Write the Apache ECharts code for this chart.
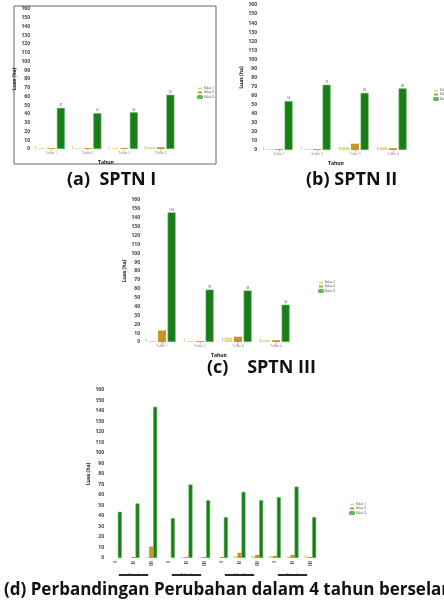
<!DOCTYPE html>
<html><head><meta charset="utf-8">
<script src="https://cdn.jsdelivr.net/npm/echarts@6/dist/echarts.min.js"></script>
<style>html,body{margin:0;padding:0;background:#fff}#c{width:444px;height:605px}</style>
</head><body><div id="c"></div>
<script>
// ---- data ----
const categories = ['Tahun 1', 'Tahun 2', 'Tahun 3', 'Tahun 4'];
const seriesNames = ['Kelas 1', 'Kelas 2', 'Kelas 3'];
const yTicks = {min: 0, max: 160, interval: 10};

const a_s1 = [1, 1, 1, 2];
const a_s2 = [1, 1, 1, 2];
const a_s3 = [47, 41, 42, 62];

const b_s1 = [1, 1, 3, 3];
const b_s2 = [1, 1, 7, 2];
const b_s3 = [54, 72, 63, 68];

const c_s1 = [1, 1, 5, 2];
const c_s2 = [13, 1, 6, 2];
const c_s3 = [146, 59, 58, 42];

const d_inner = ['SPTN I', 'SPTN II', 'SPTN III', 'SPTN I', 'SPTN II', 'SPTN III', 'SPTN I', 'SPTN II', 'SPTN III', 'SPTN I', 'SPTN II', 'SPTN III'];
const d_groups = categories;
const d_s1 = [0, 0, 1, 0, 1, 1, 0, 2, 2, 2, 2, 2];
const d_s2 = [0, 1, 11, 0, 1, 1, 1, 5, 3, 2, 3, 1];
const d_s3 = [44, 52, 144, 38, 70, 55, 39, 63, 55, 58, 68, 39];

const captions = ['(a)  SPTN I', '(b) SPTN II', '(c)    SPTN III', '(d) Perbandingan Perubahan dalam 4 tahun berselang'];

// ---- styles ----
const colors = ['#e4dc86', '#c8922c', '#1a7d1a'];
const FONT = '"Open Sans", "DejaVu Sans", sans-serif';

const grids = [
  {left: 33, top: 9, width: 146, height: 140},
  {left: 260, top: 5, width: 152, height: 145},
  {left: 143, top: 200, width: 152, height: 142},
  {left: 107, top: 390, width: 212, height: 168}
];

function yAxis(i) {
  return {
    type: 'value', gridIndex: i, min: yTicks.min, max: yTicks.max, interval: yTicks.interval,
    name: 'Luas (ha)', nameLocation: 'middle', nameGap: i === 3 ? 12 : 13, nameRotate: 90,
    nameTextStyle: {fontSize: 5, fontWeight: 'bold', color: '#222', fontFamily: FONT},
    axisLine: {show: false}, axisTick: {show: false}, splitLine: {show: false},
    axisLabel: {fontSize: 5, fontWeight: 'bold', color: '#3a3f4a', margin: 3, fontFamily: FONT}
  };
}
function xAxis(i, data) {
  return {
    type: 'category', gridIndex: i, data: data,
    name: 'Tahun', nameLocation: 'middle', nameGap: 11,
    nameTextStyle: {fontSize: 5, fontWeight: 'bold', color: '#111', fontFamily: FONT},
    axisLine: {show: false}, axisTick: {show: false},
    axisLabel: {fontSize: 3, color: '#777', margin: 3, fontFamily: FONT}
  };
}

function barSeries(idx, xi, yi, data, bw, gap) {
  return {
    type: 'bar', name: seriesNames[idx], xAxisIndex: xi, yAxisIndex: yi, data: data,
    barWidth: bw, barGap: gap,
    itemStyle: {color: colors[idx], borderColor: idx === 2 ? '#5cb85c' : colors[idx], borderWidth: idx === 2 ? 0.6 : 0},
    label: {show: xi !== 3, position: idx === 2 ? 'top' : (idx === 1 ? 'bottom' : 'left'), fontSize: 3, color: '#555', distance: 1, fontFamily: FONT}
  };
}

const xAxes = [
  xAxis(0, categories), xAxis(1, categories), xAxis(2, categories),
  Object.assign(xAxis(3, d_inner), {name: '', axisLabel: {fontSize: 5, fontWeight: 'bold', rotate: 90, color: '#333', margin: 3, interval: 0, fontFamily: FONT, formatter: v => v.replace('SPTN ', '')}}),
  {type: 'category', gridIndex: 3, data: d_groups, position: 'bottom', offset: 8,
   axisLine: {show: false}, axisTick: {show: false},
   axisLabel: {interval: 0, formatter: v => '{u|' + v + '}',
     rich: {u: {fontSize: 3, color: '#2b2b2b', backgroundColor: '#2b2b2b', height: 2, lineHeight: 2, padding: [0, 9], fontFamily: FONT}}}}
];

const series = [];
[[a_s1, a_s2, a_s3], [b_s1, b_s2, b_s3], [c_s1, c_s2, c_s3]].forEach((arr, g) => {
  arr.forEach((d, k) => series.push(barSeries(k, g, g, d, 8, '20%')));
});
[d_s1, d_s2, d_s3].forEach((d, k) => series.push(barSeries(k, 3, 3, d, 4, '0%')));

const legendPos = [{left: 192, top: 82}, {left: 428, top: 84}, {left: 313, top: 276}, {left: 344, top: 498}];
const legends = legendPos.map(p => ({
  left: p.left, top: p.top, orient: 'vertical', itemWidth: 4, itemHeight: 2, itemGap: 1,
  data: seriesNames, textStyle: {fontSize: 3, color: '#333', fontFamily: FONT, padding: [0, 0, 0, -3]},
  selectedMode: false
}));

const titleSpec = [
  {left: 67, top: 171, size: 18},
  {left: 306, top: 171, size: 18},
  {left: 207, top: 359, size: 18},
  {left: 4, top: 582, size: 17}
];
const titles = titleSpec.map((p, i) => ({
  text: captions[i], left: p.left, top: p.top, padding: 0,
  textStyle: {fontSize: p.size, fontWeight: 'bold', color: '#111', fontFamily: FONT}
}));

const chart = echarts.init(document.getElementById('c'), null, {renderer: 'canvas'});
chart.setOption({
  backgroundColor: '#fff',
  animation: false,
  title: titles,
  legend: legends,
  grid: grids,
  xAxis: xAxes,
  yAxis: [yAxis(0), yAxis(1), yAxis(2), yAxis(3)],
  series: series,
  graphic: [{type: 'rect', shape: {x: 14, y: 6, width: 202, height: 158}, style: {fill: 'none', stroke: '#666', lineWidth: 1}, silent: true}]
});
</script></body></html>
